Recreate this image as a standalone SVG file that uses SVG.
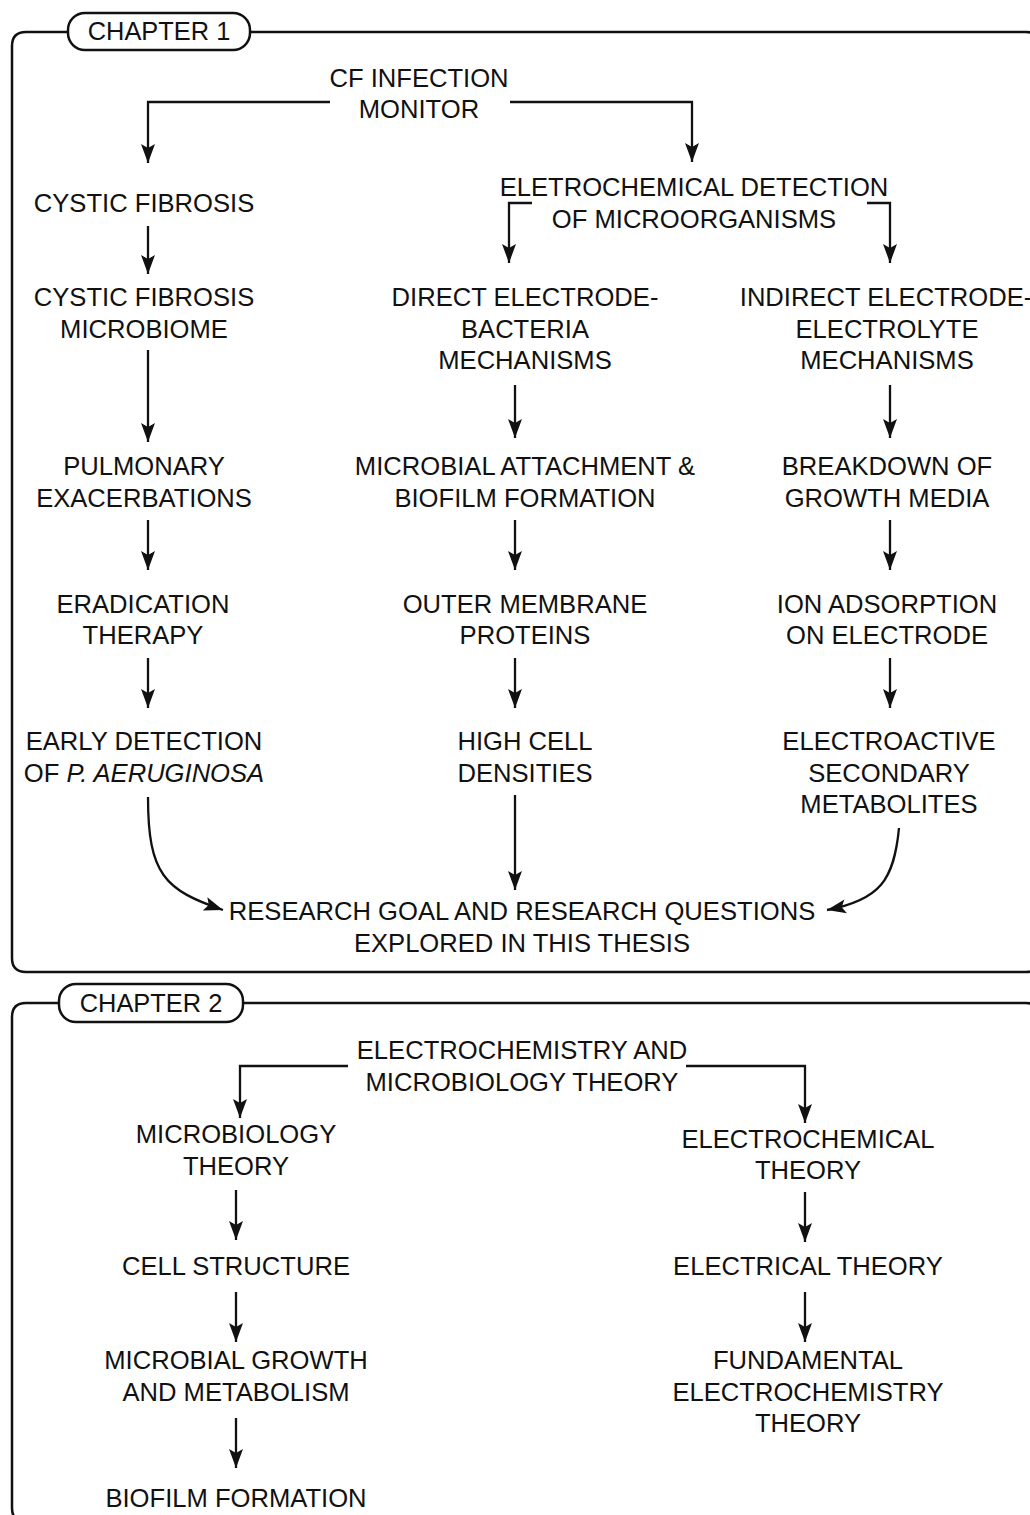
<svg xmlns="http://www.w3.org/2000/svg" width="1030" height="1515" viewBox="0 0 1030 1515">
<style>
text{font-family:"Liberation Sans",Arial,sans-serif;font-size:25.6px;fill:#111;text-anchor:middle}
.lbl{font-size:25.4px}
.frame{fill:none;stroke:#111;stroke-width:2.5}
.pill{fill:#fff;stroke:#111;stroke-width:2.5}
.c{fill:none;stroke:#111;stroke-width:2.3}
.a{marker-end:url(#ah)}
</style>
<defs>
<marker id="ah" markerUnits="userSpaceOnUse" markerWidth="24" markerHeight="18" viewBox="-1 -9 22 18" refX="19" refY="0" orient="auto">
<path d="M0,-7 L19,0 L0,7 L4,0 z" fill="#111"/>
</marker>
</defs>
<rect width="1030" height="1515" fill="#fff"/>

<g id="chapter1">
<path class="frame" d="M68,32 H26 Q12,32 12,46 V958 Q12,972 26,972 H1026 Q1040,972 1040,958 V46 Q1040,32 1026,32 H250"/>
<rect class="pill" x="68" y="13" width="182" height="37" rx="17"/>
<text class="lbl" x="159" y="40">CHAPTER 1</text>
</g>
<g id="chapter2">
<path class="frame" d="M59,1003 H26 Q12,1003 12,1017 V1508 Q12,1522 26,1522 H1026 Q1040,1522 1040,1508 V1017 Q1040,1003 1026,1003 H243"/>
<rect class="pill" x="59" y="984" width="184" height="38" rx="17"/>
<text class="lbl" x="151" y="1012">CHAPTER 2</text>
</g>

<g id="connectors">
<path class="c a" d="M330,102 H148 V163"/>
<path class="c a" d="M510,102 H692 V162"/>
<path class="c a" d="M148,226 V274"/>
<path class="c a" d="M148,350 V442"/>
<path class="c a" d="M148,520 V570"/>
<path class="c a" d="M148,658 V708"/>
<path class="c a" d="M148,797 C148,875 165,890 223,910"/>
<path class="c a" d="M532,203 H509 V263"/>
<path class="c a" d="M867,203 H890 V263"/>
<path class="c a" d="M515,385 V438"/>
<path class="c a" d="M515,520 V570"/>
<path class="c a" d="M515,658 V708"/>
<path class="c a" d="M515,795 V890"/>
<path class="c a" d="M890,385 V438"/>
<path class="c a" d="M890,520 V570"/>
<path class="c a" d="M890,658 V708"/>
<path class="c a" d="M899,828 C894,880 880,900 827,910"/>
<path class="c a" d="M348,1066 H240 V1118"/>
<path class="c a" d="M686,1066 H805 V1123"/>
<path class="c a" d="M236,1190 V1240"/>
<path class="c a" d="M236,1292 V1342"/>
<path class="c a" d="M236,1418 V1468"/>
<path class="c a" d="M805,1192 V1242"/>
<path class="c a" d="M805,1292 V1342"/>
</g>

<g id="n-cf-monitor"><text x="419" y="87">CF INFECTION</text><text x="419" y="118">MONITOR</text></g>
<g id="n-cf"><text x="144" y="212">CYSTIC FIBROSIS</text></g>
<g id="n-cf-microbiome"><text x="144" y="306">CYSTIC FIBROSIS</text><text x="144" y="338">MICROBIOME</text></g>
<g id="n-pulmonary"><text x="144" y="475">PULMONARY</text><text x="144" y="507">EXACERBATIONS</text></g>
<g id="n-eradication"><text x="143" y="613">ERADICATION</text><text x="143" y="644">THERAPY</text></g>
<g id="n-early"><text x="144" y="750">EARLY DETECTION</text><text x="144" y="782">OF <tspan font-style="italic">P. AERUGINOSA</tspan></text></g>
<g id="n-electrochem-detection"><text x="694" y="196">ELETROCHEMICAL DETECTION</text><text x="694" y="228">OF MICROORGANISMS</text></g>
<g id="n-direct"><text x="525" y="306">DIRECT ELECTRODE-</text><text x="525" y="338">BACTERIA</text><text x="525" y="369">MECHANISMS</text></g>
<g id="n-attachment"><text x="525" y="475">MICROBIAL ATTACHMENT &amp;</text><text x="525" y="507">BIOFILM FORMATION</text></g>
<g id="n-outer"><text x="525" y="613">OUTER MEMBRANE</text><text x="525" y="644">PROTEINS</text></g>
<g id="n-high"><text x="525" y="750">HIGH CELL</text><text x="525" y="782">DENSITIES</text></g>
<g id="n-indirect"><text x="886" y="306">INDIRECT ELECTRODE-</text><text x="887" y="338">ELECTROLYTE</text><text x="887" y="369">MECHANISMS</text></g>
<g id="n-breakdown"><text x="887" y="475">BREAKDOWN OF</text><text x="887" y="507">GROWTH MEDIA</text></g>
<g id="n-ion"><text x="887" y="613">ION ADSORPTION</text><text x="887" y="644">ON ELECTRODE</text></g>
<g id="n-electroactive"><text x="889" y="750">ELECTROACTIVE</text><text x="889" y="782">SECONDARY</text><text x="889" y="813">METABOLITES</text></g>
<g id="n-research"><text x="522" y="920">RESEARCH GOAL AND RESEARCH QUESTIONS</text><text x="522" y="952">EXPLORED IN THIS THESIS</text></g>

<g id="n-theory"><text x="522" y="1059">ELECTROCHEMISTRY AND</text><text x="522" y="1091">MICROBIOLOGY THEORY</text></g>
<g id="n-micro-theory"><text x="236" y="1143">MICROBIOLOGY</text><text x="236" y="1175">THEORY</text></g>
<g id="n-cell"><text x="236" y="1275">CELL STRUCTURE</text></g>
<g id="n-growth"><text x="236" y="1369">MICROBIAL GROWTH</text><text x="236" y="1401">AND METABOLISM</text></g>
<g id="n-biofilm"><text x="236" y="1507">BIOFILM FORMATION</text></g>
<g id="n-echem-theory"><text x="808" y="1148">ELECTROCHEMICAL</text><text x="808" y="1179">THEORY</text></g>
<g id="n-electrical"><text x="808" y="1275">ELECTRICAL THEORY</text></g>
<g id="n-fundamental"><text x="808" y="1369">FUNDAMENTAL</text><text x="808" y="1401">ELECTROCHEMISTRY</text><text x="808" y="1432">THEORY</text></g>
</svg>
